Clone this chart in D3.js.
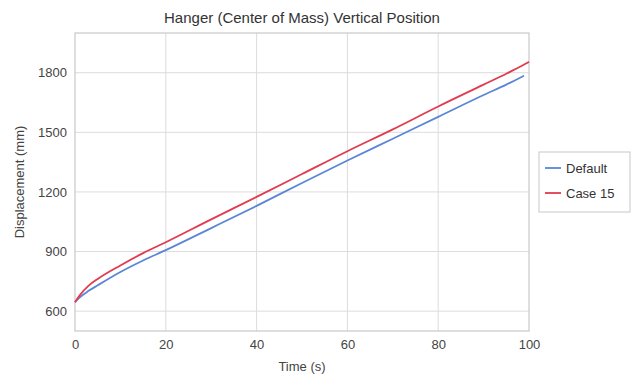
<!DOCTYPE html>
<html><head><meta charset="utf-8">
<script src="https://cdn.jsdelivr.net/npm/d3@7"></script>
<style>body{margin:0;background:#fff}svg{display:block;font-family:"Liberation Sans",Arial,sans-serif}</style>
</head><body><svg id="c" width="632" height="379"></svg>
<script>
const title = "Hanger (Center of Mass) Vertical Position";
const xLabel = "Time (s)";
const yLabel = "Displacement (mm)";
const xTicks = [0, 20, 40, 60, 80, 100];
const yTicks = [600, 900, 1200, 1500, 1800];
const seriesNames = ["Default", "Case 15"];
const seriesColors = ["#5a86d6", "#e23a4e"];
const defaultT = [0, 1, 3, 5, 10, 15, 20, 30, 40, 50, 60, 70, 80, 90, 95, 98.9];
const defaultV = [645, 668, 702, 730, 797, 855, 907, 1018, 1130, 1245, 1358, 1468, 1578, 1688, 1740, 1785];
const case15T = [0, 1, 3, 5, 10, 15, 20, 30, 40, 50, 60, 70, 80, 90, 95, 98, 100];
const case15V = [645, 678, 728, 762, 830, 892, 947, 1062, 1175, 1290, 1405, 1515, 1630, 1740, 1795, 1830, 1855];

const svg = d3.select("#c");
const m = {l: 75, r: 529, t: 33, b: 331};
const x = d3.scaleLinear().domain([0, 100]).range([m.l, m.r]);
const y = d3.scaleLinear().domain([500, 2000]).range([m.b, m.t]);

// grid
svg.append("g").selectAll("line").data(xTicks.slice(1, -1)).join("line")
  .attr("x1", d => x(d)).attr("x2", d => x(d)).attr("y1", m.t).attr("y2", m.b)
  .attr("stroke", "#dcdcdc").attr("stroke-width", 1);
svg.append("g").selectAll("line").data(yTicks).join("line")
  .attr("x1", m.l).attr("x2", m.r).attr("y1", d => y(d)).attr("y2", d => y(d))
  .attr("stroke", "#dcdcdc").attr("stroke-width", 1);
svg.append("rect").attr("x", m.l).attr("y", m.t).attr("width", m.r - m.l).attr("height", m.b - m.t)
  .attr("fill", "none").attr("stroke", "#c8c8c8").attr("stroke-width", 1.2);

// axes
const xa = svg.append("g").attr("transform", `translate(0,${m.b})`)
  .call(d3.axisBottom(x).tickValues(xTicks).tickFormat(d3.format("d")).tickSize(0).tickPadding(9));
const ya = svg.append("g").attr("transform", `translate(${m.l},0)`)
  .call(d3.axisLeft(y).tickValues(yTicks).tickFormat(d3.format("d")).tickSize(0).tickPadding(8));
[xa, ya].forEach(a => {
  a.select(".domain").remove();
  a.selectAll("text").attr("font-size", 13).attr("fill", "#444").attr("font-family", "Liberation Sans, Arial, sans-serif");
});

// lines
const line = d3.line().x(d => x(d[0])).y(d => y(d[1])).curve(d3.curveMonotoneX);
const data = [defaultT.map((t, i) => [t, defaultV[i]]), case15T.map((t, i) => [t, case15V[i]])];
data.forEach((d, i) => {
  svg.append("path").datum(d).attr("d", line).attr("fill", "none")
    .attr("stroke", seriesColors[i]).attr("stroke-width", 1.8);
});

// titles
svg.append("text").attr("x", (m.l + m.r) / 2).attr("y", 23).attr("text-anchor", "middle")
  .attr("font-size", 15).attr("fill", "#333").text(title);
svg.append("text").attr("x", (m.l + m.r) / 2).attr("y", 371).attr("text-anchor", "middle")
  .attr("font-size", 13).attr("fill", "#444").text(xLabel);
svg.append("text").attr("transform", `translate(24,${(m.t + m.b) / 2}) rotate(-90)`).attr("text-anchor", "middle")
  .attr("font-size", 13).attr("fill", "#444").text(yLabel);

// legend
const lg = svg.append("g");
lg.append("rect").attr("x", 539).attr("y", 152).attr("width", 91).attr("height", 60)
  .attr("fill", "#fff").attr("stroke", "#c8c8c8");
seriesNames.forEach((n, i) => {
  const yy = 168 + i * 25;
  lg.append("line").attr("x1", 545).attr("x2", 561).attr("y1", yy).attr("y2", yy)
    .attr("stroke", seriesColors[i]).attr("stroke-width", 1.8);
  lg.append("text").attr("x", 566).attr("y", yy + 4.5).attr("font-size", 13).attr("fill", "#333").text(n);
});
</script></body></html>
